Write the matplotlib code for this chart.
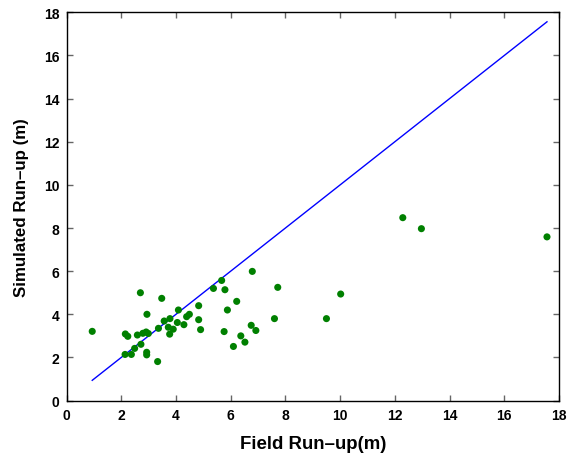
import matplotlib
matplotlib.use("Agg")
import matplotlib.pyplot as plt
import numpy as np

plt.rcParams['font.family'] = ['Liberation Sans', 'DejaVu Sans']

field = [0.94, 2.70, 3.48, 2.94, 4.09, 4.83, 4.83, 4.90, 4.49, 4.39, 4.29, 4.05,
         3.78, 3.57, 3.72, 3.90, 3.77, 3.36, 2.15, 2.24, 2.59, 2.79, 2.91, 2.99,
         2.72, 2.49, 2.14, 2.37, 2.93, 2.93, 3.33,
         6.79, 5.67, 5.37, 5.79, 7.72, 10.02, 6.22, 5.88, 7.60, 9.50, 5.76,
         6.75, 6.92, 6.37, 6.52, 6.10, 12.29, 12.97, 17.56]
simulated = [3.21, 5.00, 4.74, 4.00, 4.20, 4.40, 3.75, 3.29, 4.00, 3.89, 3.52, 3.62,
             3.80, 3.69, 3.40, 3.31, 3.08, 3.35, 3.09, 2.98, 3.04, 3.12, 3.18, 3.11,
             2.61, 2.42, 2.14, 2.14, 2.24, 2.12, 1.81,
             5.99, 5.57, 5.20, 5.14, 5.25, 4.94, 4.60, 4.20, 3.80, 3.80, 3.20,
             3.49, 3.25, 3.00, 2.71, 2.51, 8.48, 7.97, 7.59]

fig = plt.figure(figsize=(5.68, 4.56), dpi=100)
ax = fig.add_axes([0.1171, 0.1193, 0.9842 - 0.1171, 0.9708 - 0.1193])

lo, hi = min(field), max(field)
ax.plot([lo, hi], [lo, hi], color='#0000ff', lw=1.0, zorder=2)
ax.scatter(field, simulated, s=26, color='#008000', edgecolors='none', zorder=3)

ax.set_xlim(0, 18)
ax.set_ylim(0, 18)
ax.set_xticks(np.arange(0, 19, 2))
ax.set_yticks(np.arange(0, 19, 2))
ax.tick_params(direction='in', length=4, width=1, color='#666666',
               top=True, right=True, labelsize=10, pad=5)
for lab in ax.get_xticklabels() + ax.get_yticklabels():
    lab.set_fontweight('bold')
for sp in ax.spines.values():
    sp.set_linewidth(1.0)
    sp.set_color('black')

ax.set_xlabel('Field Run–up(m)', fontsize=13.4, fontweight='bold', labelpad=10)
ax.set_ylabel('Simulated Run–up (m)', fontsize=12.2, fontweight='bold', labelpad=11)

fig.savefig('out.png', dpi=100)
